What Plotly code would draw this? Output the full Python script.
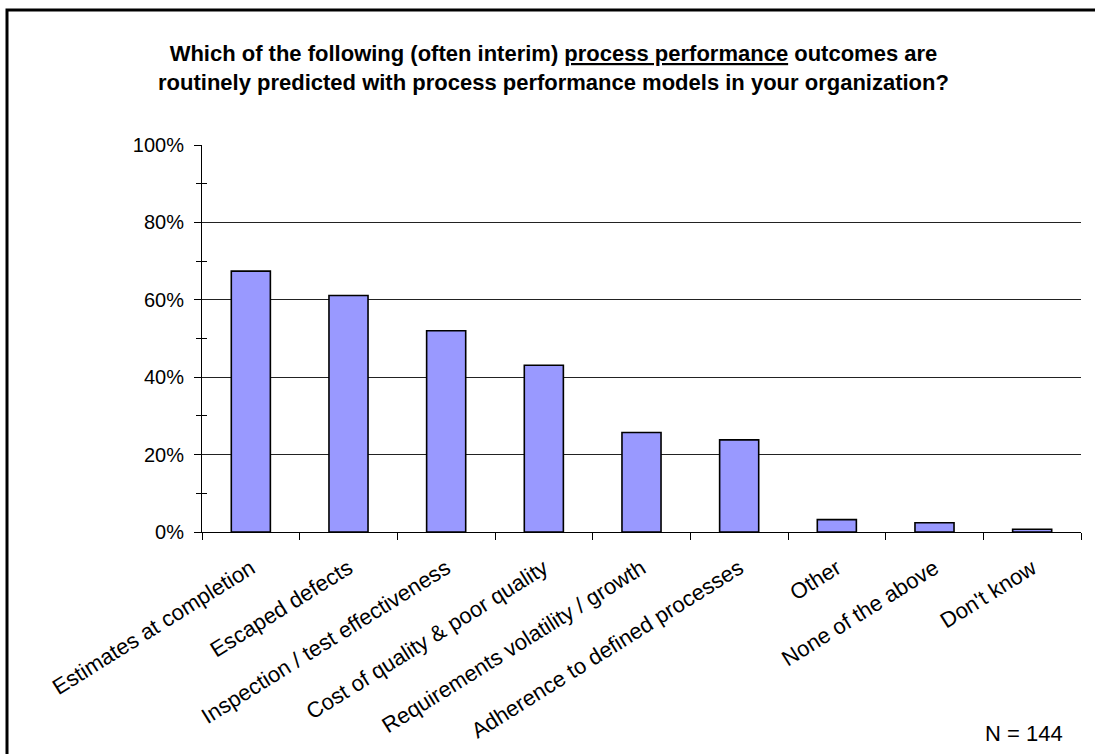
import plotly.graph_objects as go

# Survey outcomes predicted by process performance models (share of respondents)
categories = [
    "Estimates at completion",
    "Escaped defects",
    "Inspection / test effectiveness",
    "Cost of quality & poor quality",
    "Requirements volatility / growth",
    "Adherence to defined processes",
    "Other",
    "None of the above",
    "Don't know",
]
shares = [0.674, 0.611, 0.52, 0.431, 0.257, 0.238, 0.032, 0.024, 0.007]
y_ticks = [0, 0.2, 0.4, 0.6, 0.8, 1.0]
y_tick_labels = ["0%", "20%", "40%", "60%", "80%", "100%"]

W, H = 1095, 754
ML, MR, MT, MB = 202, 14, 145, 222
PW, PH = W - ML - MR, H - MT - MB


def px_to_paper_x(px):
    return (px - ML) / PW


def px_to_paper_y(py):
    return (H - MB - py) / PH


FONT = "Liberation Sans, Arial, sans-serif"

fig = go.Figure(
    go.Bar(
        x=categories,
        y=shares,
        marker=dict(color="#9999FF", line=dict(color="#000000", width=1.6)),
        width=0.4,
    )
)

fig.update_layout(
    width=W,
    height=H,
    margin=dict(l=ML, r=MR, t=MT, b=MB, pad=0),
    paper_bgcolor="white",
    plot_bgcolor="white",
    showlegend=False,
    font=dict(family=FONT, size=20, color="black"),
    bargap=0.6,
    yaxis2=dict(
        overlaying="y",
        anchor="x",
        side="left",
        range=[0, 1],
        showgrid=False,
        zeroline=False,
        showticklabels=False,
        ticks="",
        minor=dict(dtick=0.1, ticks="inside", ticklen=5, tickcolor="black", showgrid=False),
    ),
)

fig.update_xaxes(
    type="category",
    tickangle=-32,
    tickson="boundaries",
    ticks="outside",
    ticklen=7,
    tickcolor="black",
    showline=True,
    linecolor="black",
    linewidth=1,
    showgrid=False,
    ticklabelstandoff=14,
    tickfont=dict(family=FONT, size=22, color="black"),
)

fig.update_yaxes(
    range=[0, 1],
    tickvals=y_ticks,
    ticktext=y_tick_labels,
    ticks="outside",
    ticklen=7,
    tickcolor="black",
    showline=True,
    linecolor="black",
    linewidth=1,
    showgrid=True,
    gridcolor="#222222",
    gridwidth=1,
    zeroline=False,
    ticklabelstandoff=6,
    minor=dict(dtick=0.1, ticks="outside", ticklen=5, tickcolor="black", showgrid=False),
    tickfont=dict(family=FONT, size=20, color="black"),
    selector=dict(overlaying=None),
)

# Invisible trace that activates the overlay axis carrying the inner minor ticks
fig.add_trace(go.Scatter(x=[categories[0]], y=[0], yaxis="y2", mode="markers",
                         marker=dict(opacity=0), hoverinfo="skip", showlegend=False))

# Title
fig.add_annotation(
    text="<b>Which of the following (often interim) <u>process performance</u> outcomes are<br>"
         "routinely predicted with process performance models in your organization?</b>",
    xref="paper", yref="paper",
    x=px_to_paper_x(553), y=px_to_paper_y(68),
    xanchor="center", yanchor="middle",
    showarrow=False,
    font=dict(family=FONT, size=22, color="black"),
    align="center",
)

# Sample size note
fig.add_annotation(
    text="N = 144",
    xref="paper", yref="paper",
    x=px_to_paper_x(1024), y=px_to_paper_y(733),
    xanchor="center", yanchor="middle",
    showarrow=False,
    font=dict(family=FONT, size=22, color="black"),
)

# Outer frame
fig.add_shape(
    type="rect",
    xref="paper", yref="paper",
    x0=px_to_paper_x(7), x1=px_to_paper_x(1110),
    y0=px_to_paper_y(770), y1=px_to_paper_y(10),
    line=dict(color="black", width=3),
    fillcolor="rgba(0,0,0,0)",
    layer="above",
)

fig.write_html("out.html")
